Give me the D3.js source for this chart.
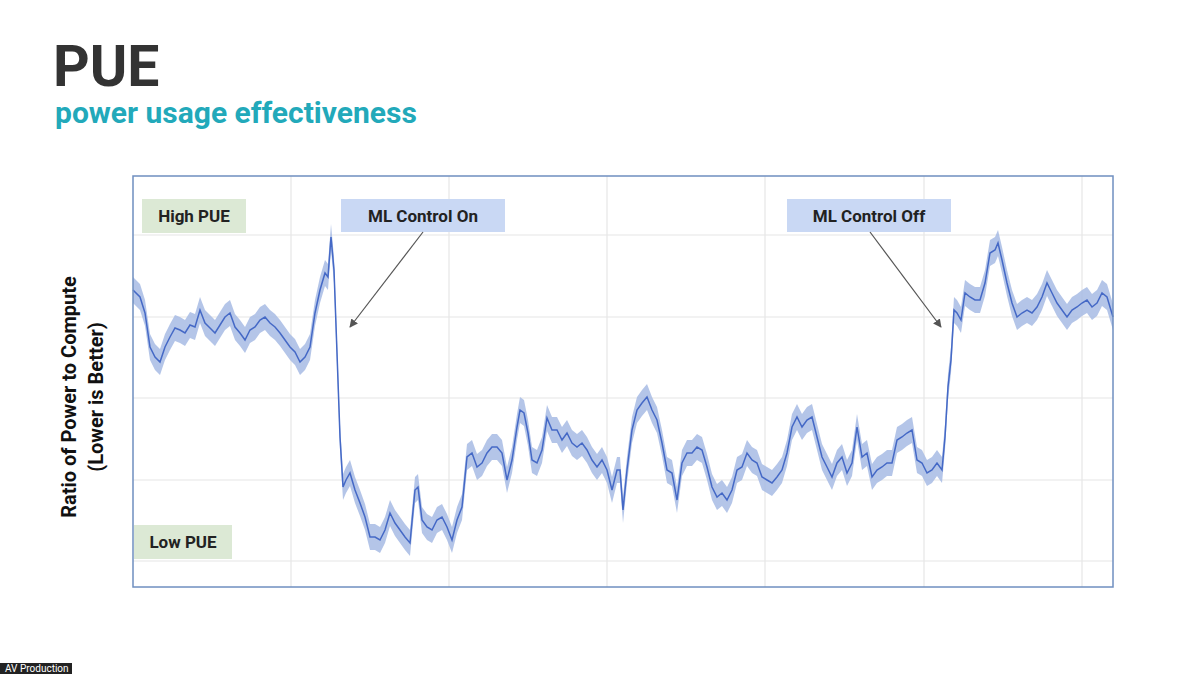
<!DOCTYPE html>
<meta charset="utf-8">
<script src="https://cdn.jsdelivr.net/npm/d3@7"></script>
<html>
<head>
<style>
body { margin:0; background:#fff; font-family: Roboto, "Liberation Sans", Arial, sans-serif; }
</style>
</head>
<body>
<div id="chart"></div>
</body>
</html>
<script>
// time position (0..980) and PUE level (0..411, higher = worse)
var times = [0,7,12,17,22,27,32,37,42,47,52,57,62,67,72,77,82,87,92,97,
  102,107,112,117,122,127,132,137,142,147,152,157,162,167,172,177,182,187,192,195,
  198,201,204,207,210,213,217,222,227,232,237,242,247,252,257,262,267,272,277,282,
  285,289,294,299,304,309,314,319,324,329,334,339,344,349,354,359,364,369,374,379,
  384,387,391,395,399,404,409,414,419,424,429,434,439,444,449,454,459,464,469,474,
  479,484,487,490,494,499,504,509,514,519,524,529,534,539,544,549,554,559,564,569,
  574,579,584,589,594,599,604,609,614,619,624,629,634,639,644,649,654,659,664,669,
  674,679,684,689,694,699,704,709,714,719,724,729,734,739,744,749,754,759,764,769,
  774,779,784,789,794,799,804,809,812,815,818,821,824,828,832,837,842,847,852,857,
  862,865,869,874,879,884,889,894,899,904,909,914,919,924,929,934,939,944,949,954,
  959,964,969,974,980];
var levels = [297,290,274,240,230,225,240,250,259,257,254,262,260,277,264,259,254,262,270,274,
  260,254,247,257,260,267,270,264,260,254,247,240,235,225,230,240,274,297,314,310,
  350,317,234,150,100,107,114,97,84,70,50,50,47,57,74,64,57,50,44,97,
  100,67,60,57,67,70,60,47,67,80,130,134,120,124,134,140,140,134,107,127,
  160,177,174,154,127,124,137,169,157,157,147,154,144,140,144,137,127,120,127,117,
  97,117,117,77,117,157,177,184,190,177,167,144,117,114,87,124,134,134,140,137,
  120,100,90,94,87,97,117,120,134,127,124,110,107,104,110,117,134,160,170,160,
  167,170,150,130,120,110,124,130,114,124,160,130,134,110,117,120,124,124,147,150,
  154,157,127,124,114,117,124,117,150,200,227,277,274,267,294,290,287,287,304,334,
  337,344,327,304,284,270,274,277,274,280,290,304,294,284,277,270,277,280,284,287,
  280,284,294,290,270];
var bandHalf = 13;

var hGrid = [26,107,189,270,352];
var vGrid = [158,316,474,632,791,949];

var notes = [
  {text:"High PUE",      x0:142, x1:246, y0:199, y1:233, fill:"#dce9d5"},
  {text:"Low PUE",       x0:134, x1:232, y0:525, y1:559, fill:"#dce9d5"},
  {text:"ML Control On", x0:341, x1:505, y0:199, y1:232, fill:"#c9d8f4"},
  {text:"ML Control Off",x0:787, x1:951, y0:199, y1:232, fill:"#c9d8f4"}
];

var W = 1200, H = 674;
var plot = {left:133, right:1113, top:176, bottom:587};

var svg = d3.select("#chart").append("svg")
  .attr("width", W).attr("height", H);

svg.append("text").attr("x",53).attr("y",86)
  .style("font-size","57px").style("font-weight","bold").style("fill","#333")
  .text("PUE");
svg.append("text").attr("x",55).attr("y",123)
  .style("font-size","30px").style("font-weight","bold").style("fill","#22a9ba")
  .text("power usage effectiveness");

var x = d3.scaleLinear().domain([0,980]).range([plot.left, plot.right]);
var y = d3.scaleLinear().domain([0,411]).range([plot.bottom, plot.top]);

// grid
svg.append("g").selectAll("line").data(hGrid).enter().append("line")
  .attr("x1",plot.left).attr("x2",plot.right)
  .attr("y1",function(d){return y(d)}).attr("y2",function(d){return y(d)})
  .attr("stroke","#e6e6e6").attr("stroke-width",1.2);
svg.append("g").selectAll("line").data(vGrid).enter().append("line")
  .attr("y1",plot.top).attr("y2",plot.bottom)
  .attr("x1",function(d){return x(d)}).attr("x2",function(d){return x(d)})
  .attr("stroke","#e6e6e6").attr("stroke-width",1.2);

var n = Math.min(times.length, levels.length);
var data = [];
for (var i = 0; i < n; i++) data.push({t:times[i], v:levels[i]});

svg.append("path").datum(data)
  .attr("fill","#a7bbe4").attr("opacity",0.85)
  .attr("d", d3.area()
    .x(function(d){return x(d.t)})
    .y0(function(d){return y(d.v-bandHalf)})
    .y1(function(d){return y(d.v+bandHalf)}));

svg.append("path").datum(data)
  .attr("fill","none").attr("stroke","#4569c6").attr("stroke-width",1.5)
  .attr("d", d3.line()
    .x(function(d){return x(d.t)})
    .y(function(d){return y(d.v)}));

// frame
svg.append("rect").attr("x",plot.left).attr("y",plot.top)
  .attr("width",plot.right-plot.left).attr("height",plot.bottom-plot.top)
  .attr("fill","none").attr("stroke","#6f8fc0").attr("stroke-width",1.5);

// note boxes
var g = svg.append("g").selectAll("g").data(notes).enter().append("g");
g.append("rect")
  .attr("x",function(d){return d.x0}).attr("y",function(d){return d.y0})
  .attr("width",function(d){return d.x1-d.x0}).attr("height",function(d){return d.y1-d.y0})
  .attr("fill",function(d){return d.fill});
g.append("text")
  .attr("x",function(d){return (d.x0+d.x1)/2}).attr("y",function(d){return (d.y0+d.y1)/2+6})
  .attr("text-anchor","middle").style("font-size","17px").style("font-weight","bold").style("fill","#222")
  .text(function(d){return d.text});

// arrows
svg.append("defs").append("marker").attr("id","ah")
  .attr("viewBox","0 0 10 10").attr("refX",9).attr("refY",5)
  .attr("markerWidth",7).attr("markerHeight",7).attr("orient","auto")
  .append("path").attr("d","M0,0L10,5L0,10z").attr("fill","#555");
[[423,232,350,327],[870,232,941,327]].forEach(function(a){
  svg.append("line").attr("x1",a[0]).attr("y1",a[1]).attr("x2",a[2]).attr("y2",a[3])
    .attr("stroke","#555").attr("stroke-width",1.2).attr("marker-end","url(#ah)");
});

// y label
var yl = svg.append("text").attr("transform","translate(76,397) rotate(-90)")
  .attr("text-anchor","middle").style("font-size","20px").style("font-weight","bold").style("fill","#111");
yl.append("tspan").attr("x",0).attr("dy",0).text("Ratio of Power to Compute");
yl.append("tspan").attr("x",0).attr("dy",27).text("(Lower is Better)");

// corner tag
svg.append("rect").attr("x",0).attr("y",663).attr("width",72).attr("height",11).attr("fill","#222");
svg.append("text").attr("x",5).attr("y",672).style("font-size","10px").style("fill","#fff").text("AV Production");
</script>
